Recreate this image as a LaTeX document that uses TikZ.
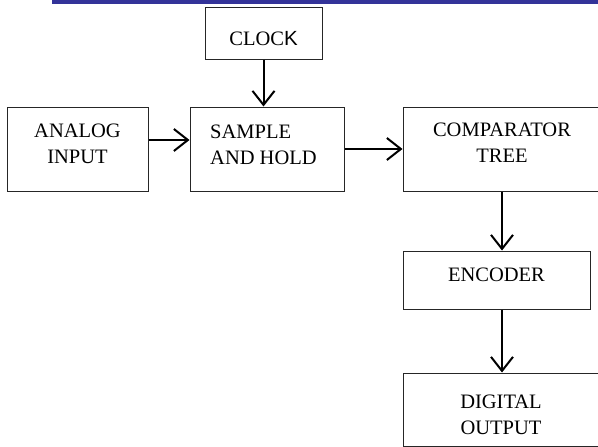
\documentclass[tikz,border=0pt]{standalone}
\usepackage{fontspec}
\setmainfont{Liberation Serif}
\newfontfamily\kfont{Liberation Sans}
\usetikzlibrary{arrows.meta}
\definecolor{barblue}{HTML}{333399}
\tikzset{
  box/.style={draw=black!85, line width=1pt, inner sep=0pt},
  txt/.style={inner sep=0pt, font=\fontsize{20.5}{26}\selectfont},
  arr/.style={line width=2pt, -{Straight Barb[length=14pt,width=22pt,line width=2pt]}},
}
\begin{document}
\begin{tikzpicture}[x=1pt,y=-1pt]
\useasboundingbox (0,0) rectangle (598,447);
\clip (0,0) rectangle (598,447);
\fill[barblue] (52,0) rectangle (598,4);
% boxes
\node[box, minimum width=117pt, minimum height=52pt] (ck) at (263.5,33) {};
\node[box, minimum width=141pt, minimum height=84pt] (an) at (77.5,149) {};
\node[box, minimum width=154pt, minimum height=84pt] (sh) at (267,149) {};
\node[box, minimum width=198pt, minimum height=84pt] (cp) at (502,149) {};
\node[box, minimum width=187pt, minimum height=58pt] (en) at (496.5,280) {};
\node[box, minimum width=198pt, minimum height=73pt] (dg) at (502,409.5) {};
% texts
\node[txt] (ckt) at (263.5,39) {CLOC{\kfont K}};
\node[txt, align=center] (ant) at (77.5,144) {ANALOG\\INPUT};
\node[txt, align=left, anchor=west] (sht) at (210,145) {SAMPLE\\AND HOLD};
\node[txt, align=center] (cpt) at (502,142.5) {COMPARATOR\\TREE};
\node[txt] (ent) at (496.5,275) {ENCODER};
\node[txt, align=center] (dgt) at (501,414.5) {DIGITAL\\OUTPUT};
% connectors
\draw[arr] (ck.south) -- (ck.south |- sh.north);
\draw[arr] ([yshift=9pt]an.east) -- ([yshift=9pt]an.east -| sh.west);
\draw[arr] (sh.east) -- (sh.east -| cp.west);
\draw[arr] (cp.south) -- (cp.south |- en.north);
\draw[arr] (en.south -| dg.north) -- (dg.north);
\end{tikzpicture}
\end{document}
